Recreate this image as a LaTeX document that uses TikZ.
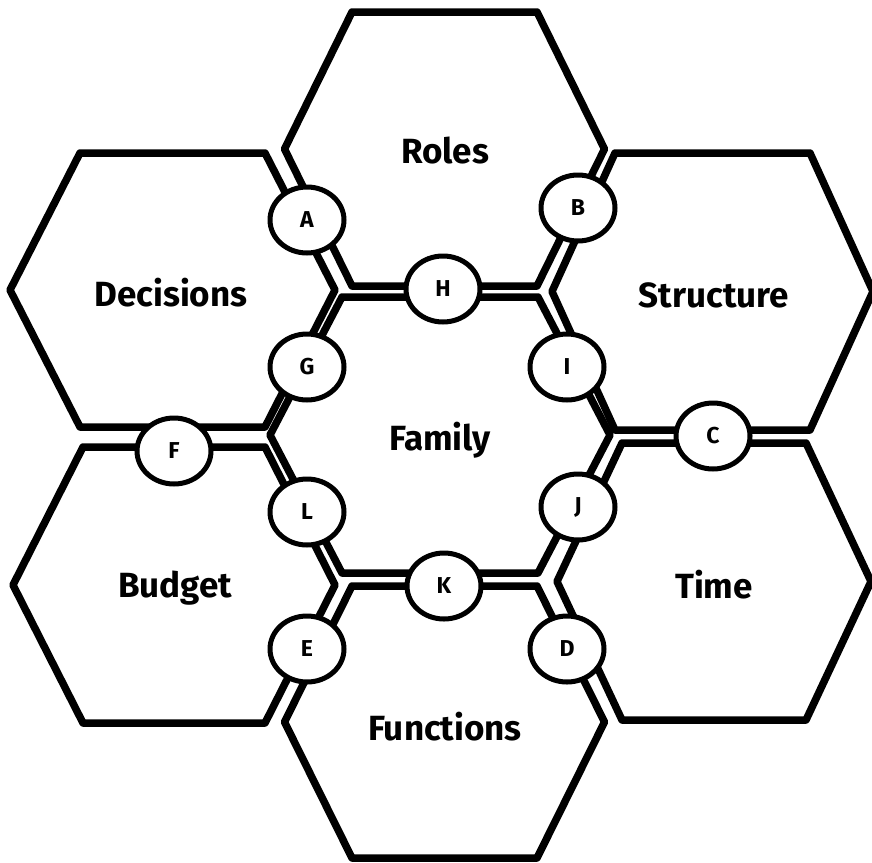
\documentclass[tikz,border=0pt]{standalone}
\usepackage{fontspec}
\setmainfont{Fira Sans}
\usetikzlibrary{shapes.geometric}
% #1 cx, #2 cy (pixels from top), #3 half width, #4 half top edge, #5 half height
\newcommand\hexshape[5]{%
  \draw[hexline] ({#1-#3},{-#2}) -- ({#1-#4},{-#2+#5}) -- ({#1+#4},{-#2+#5})
    -- ({#1+#3},{-#2}) -- ({#1+#4},{-#2-#5}) -- ({#1-#4},{-#2-#5}) -- cycle;}
\begin{document}
\begin{tikzpicture}[x=1pt,y=1pt,
  hexline/.style={line width=7.5pt, line join=round, fill=white, draw=black},
  lbl/.style={font=\bfseries\fontsize{35}{42}\selectfont, inner sep=0pt},
  dot/.style={ellipse, draw=black, line width=5pt, fill=white,
    minimum width=74pt, minimum height=66pt, inner sep=0pt,
    font=\bfseries\fontsize{23}{27}\selectfont}]
\useasboundingbox (0,0) rectangle (872,-862);
% hexagons
\hexshape{444.5}{149}{160}{92.5}{137}     % Roles
\hexshape{172.5}{290}{162.5}{92.5}{137}   % Decisions
\hexshape{712.5}{291.5}{160.5}{97.5}{138.5} % Structure
\hexshape{440}{435}{170}{98}{138}         % Family
\hexshape{174}{585}{161}{91}{138}         % Budget
\hexshape{714}{581.5}{157}{92}{138.5}     % Time
\hexshape{444.5}{722}{160}{92.5}{136}     % Functions
% labels
\node[lbl] (roles) at (445,-151) {Roles};
\node[lbl] (decisions) at (171,-293) {Decisions};
\node[lbl] (structure) at (714,-295) {Structure};
\node[lbl] (family) at (440,-440) {Family};
\node[lbl] (budget) at (175,-588) {Budget};
\node[lbl] (time) at (714,-585) {Time};
\node[lbl] (functions) at (445,-727) {Functions};
% junction circles
\node[dot] (A) at (307,-220) {A};
\node[dot] (B) at (578,-208) {B};
\node[dot] (C) at (713,-436) {C};
\node[dot] (D) at (567,-649) {D};
\node[dot] (E) at (307,-649) {E};
\node[dot] (F) at (174,-451) {F};
\node[dot] (G) at (307,-367) {G};
\node[dot] (H) at (443,-289) {H};
\node[dot] (I) at (567,-367) {I};
\node[dot] (J) at (578,-507) {J};
\node[dot] (K) at (444,-586) {K};
\node[dot] (L) at (307,-512) {L};
\end{tikzpicture}
\end{document}
